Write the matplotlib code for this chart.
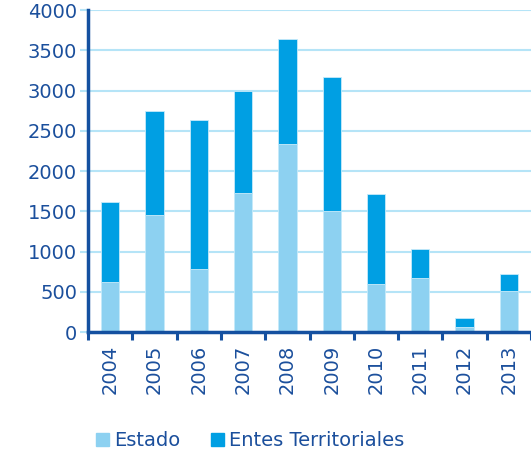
import numpy as np
import matplotlib
matplotlib.use("Agg")
import matplotlib.pyplot as plt
from matplotlib.patches import Patch

years = ["2004", "2005", "2006", "2007", "2008", "2009", "2010", "2011", "2012", "2013"]
estado = [620, 1460, 780, 1730, 2340, 1500, 600, 670, 70, 510]
totales = [1610, 2740, 2640, 3000, 3640, 3170, 1710, 1030, 180, 720]
entes = [t - e for t, e in zip(totales, estado)]

c_estado = "#8dd1f1"
c_entes = "#009fe3"
c_text = "#1b4f9c"
c_spine = "#1450a0"
c_grid = "#b5e4f7"

plt.rcParams["font.family"] = "DejaVu Sans"

fig = plt.figure(figsize=(5.31, 4.55), dpi=100)
ax = fig.add_axes([0.166, 0.270, 0.834, 0.708])

x = np.arange(len(years))
ax.bar(x, estado, width=0.41, color=c_estado, edgecolor="#c6eafa", linewidth=0.6, zorder=3)
ax.bar(x, entes, width=0.41, bottom=estado, color=c_entes, edgecolor="#c6eafa", linewidth=0.6, zorder=3)

ax.set_xlim(-0.5, 9.5)
ax.set_ylim(0, 4000)
ax.set_yticks(range(0, 4001, 500))
ax.yaxis.grid(True, color=c_grid, linewidth=1.5, zorder=0)

ax.set_xticks(x)
ax.set_xticklabels(years, rotation=90)
ax.set_xticks(np.arange(-0.5, 10, 1), minor=True)
ax.tick_params(axis="x", which="major", length=0, pad=9, labelsize=14, labelcolor=c_text)
ax.tick_params(axis="x", which="minor", length=6, width=2.2, color=c_spine, direction="out")
ax.tick_params(axis="y", length=6, width=1.5, color=c_grid, pad=2, labelsize=14, labelcolor=c_text)

for s in ["top", "right"]:
    ax.spines[s].set_visible(False)
for s in ["left", "bottom"]:
    ax.spines[s].set_color(c_spine)
    ax.spines[s].set_linewidth(2.5)
    ax.spines[s].set_zorder(4)

handles = [Patch(color=c_estado, label="Estado"), Patch(color=c_entes, label="Entes Territoriales")]
leg = fig.legend(handles=handles, loc="center", bbox_to_anchor=(250 / 531, 0.031), ncol=2,
                 frameon=False, fontsize=14, handlelength=0.65, handleheight=0.65,
                 handletextpad=0.25, columnspacing=1.6)
for t in leg.get_texts():
    t.set_color(c_text)

fig.savefig("out.png", dpi=100)
